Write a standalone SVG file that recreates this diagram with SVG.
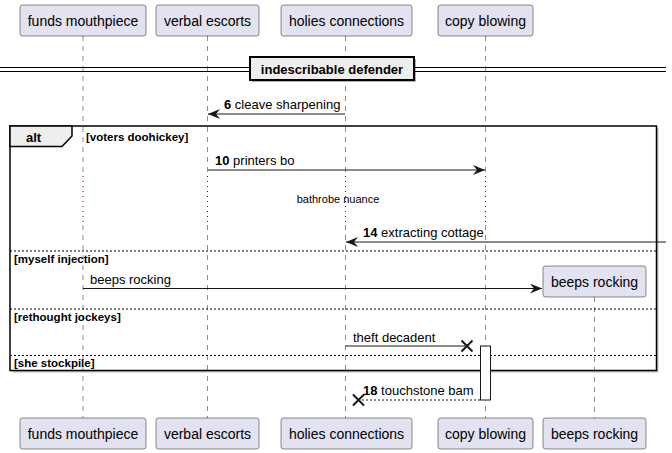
<svg xmlns="http://www.w3.org/2000/svg" width="672" height="453" viewBox="0 0 672 453">
<defs>
<style>
.p{fill:#E2E2F0;stroke:#181818;stroke-width:0.5}
.pt{font-family:"Liberation Sans",Arial,sans-serif;font-size:14px;fill:#000}
.life{stroke:#181818;stroke-width:0.5;stroke-dasharray:5,5;fill:none}
.delay{stroke:#800000;stroke-width:1;stroke-dasharray:1,4;fill:none}
.m{stroke:#181818;stroke-width:1;fill:none}
.md{stroke:#181818;stroke-width:1;fill:none;stroke-dasharray:2,2}
.mt{font-family:"Liberation Sans",Arial,sans-serif;font-size:13px;fill:#000}
.b{font-weight:bold}
.ct{font-family:"Liberation Sans",Arial,sans-serif;font-size:11.5px;font-weight:bold;fill:#000}
.sep{stroke:#000;stroke-width:1;stroke-dasharray:2,2;fill:none}
.x{stroke:#181818;stroke-width:2;fill:none}
</style>
<marker id="ah" viewBox="0 0 12 10" refX="12" refY="5" markerWidth="12" markerHeight="10" markerUnits="userSpaceOnUse" orient="auto">
<path d="M0,0 L12,5 L0,10 L4,5 Z" fill="#181818"/>
</marker>
</defs>
<rect width="672" height="453" fill="#FFFFFF"/>
<g id="lifelines">
<line class="life" x1="83" y1="36" x2="83" y2="418"/>
<line class="life" x1="207.5" y1="36" x2="207.5" y2="418"/>
<line class="life" x1="345.5" y1="36" x2="345.5" y2="418"/>
<line class="life" x1="485.5" y1="36" x2="485.5" y2="418"/>
</g>
<g id="p-funds">
<rect class="p" x="20" y="5" width="126" height="31" rx="2.5"/>
<text class="pt" x="83" y="26" text-anchor="middle">funds mouthpiece</text>
<rect class="p" x="20" y="418" width="126" height="31" rx="2.5"/>
<text class="pt" x="83" y="439" text-anchor="middle">funds mouthpiece</text>
</g>
<g id="p-verbal">
<rect class="p" x="156" y="5" width="103" height="31" rx="2.5"/>
<text class="pt" x="207.5" y="26" text-anchor="middle">verbal escorts</text>
<rect class="p" x="156" y="418" width="103" height="31" rx="2.5"/>
<text class="pt" x="207.5" y="439" text-anchor="middle">verbal escorts</text>
</g>
<g id="p-holies">
<rect class="p" x="281" y="5" width="131" height="31" rx="2.5"/>
<text class="pt" x="346.5" y="26" text-anchor="middle">holies connections</text>
<rect class="p" x="281" y="418" width="131" height="31" rx="2.5"/>
<text class="pt" x="346.5" y="439" text-anchor="middle">holies connections</text>
</g>
<g id="p-copy">
<rect class="p" x="438" y="5" width="95" height="31" rx="2.5"/>
<text class="pt" x="485.5" y="26" text-anchor="middle">copy blowing</text>
<rect class="p" x="438" y="418" width="95" height="31" rx="2.5"/>
<text class="pt" x="485.5" y="439" text-anchor="middle">copy blowing</text>
</g>
<g id="divider">
<line x1="0" y1="67.5" x2="666" y2="67.5" stroke="#000" stroke-width="1"/>
<line x1="0" y1="71.5" x2="666" y2="71.5" stroke="#000" stroke-width="1"/>
<rect x="252" y="59" width="164" height="23" fill="#000" opacity="0.3"/>
<rect x="250" y="57" width="164" height="23" fill="#EEEEEE" stroke="#000" stroke-width="2"/>
<text x="332" y="74" text-anchor="middle" font-family="'Liberation Sans',Arial,sans-serif" font-size="13" font-weight="bold">indescribable defender</text>
</g>
<g id="alt-frame">
<rect x="12" y="128" width="646.5" height="244.5" fill="#000" opacity="0.25"/>
<rect x="10" y="126" width="646.5" height="244.5" fill="#FFFFFF" stroke="#000" stroke-width="1.5"/>
<path d="M10,126 L72,126 L72,136 L62,146.5 L10,146.5 Z" fill="#EEEEEE" stroke="#000" stroke-width="1.5"/>
<text x="26" y="142" font-family="'Liberation Sans',Arial,sans-serif" font-size="13" font-weight="bold">alt</text>
<line class="sep" x1="10" y1="251" x2="656.5" y2="251"/>
<line class="sep" x1="10" y1="309" x2="656.5" y2="309"/>
<line class="sep" x1="10" y1="355.5" x2="656.5" y2="355.5"/>
</g>
<g id="inner-lifelines">
<line class="life" x1="83" y1="127" x2="83" y2="176"/>
<line class="delay" x1="83" y1="176" x2="83" y2="225"/>
<line class="life" x1="83" y1="225" x2="83" y2="370"/>
<line class="life" x1="207.5" y1="127" x2="207.5" y2="176"/>
<line class="delay" x1="207.5" y1="176" x2="207.5" y2="225"/>
<line class="life" x1="207.5" y1="225" x2="207.5" y2="370"/>
<line class="life" x1="345.5" y1="127" x2="345.5" y2="176"/>
<line class="delay" x1="345.5" y1="176" x2="345.5" y2="225"/>
<line class="life" x1="345.5" y1="225" x2="345.5" y2="370"/>
<line class="life" x1="485.5" y1="127" x2="485.5" y2="176"/>
<line class="delay" x1="485.5" y1="176" x2="485.5" y2="225"/>
<line class="life" x1="485.5" y1="225" x2="485.5" y2="370"/>
<line class="life" x1="594.5" y1="297" x2="594.5" y2="418"/>
</g>
<g id="alt-labels">
<text class="ct" x="86" y="141">[voters doohickey]</text>
<text class="ct" x="14" y="263">[myself injection]</text>
<text class="ct" x="14" y="321">[rethought jockeys]</text>
<text class="ct" x="14" y="367">[she stockpile]</text>
</g>
<g id="p-beeps">
<rect class="p" x="543" y="266" width="103" height="31" rx="2.5"/>
<text class="pt" x="594.5" y="287" text-anchor="middle">beeps rocking</text>
<rect class="p" x="543" y="418" width="103" height="31" rx="2.5"/>
<text class="pt" x="594.5" y="439" text-anchor="middle">beeps rocking</text>
</g>
<g id="activation">
<rect x="480.5" y="346" width="10" height="54" fill="#FFFFFF" stroke="#181818" stroke-width="1"/>
</g>
<g id="connectors">
<line class="m" x1="345" y1="114" x2="208" y2="114" marker-end="url(#ah)"/>
<text class="mt" x="224" y="109"><tspan class="b">6</tspan> cleave sharpening</text>
<line class="m" x1="208" y1="170" x2="485" y2="170" marker-end="url(#ah)"/>
<text class="mt" x="215" y="165"><tspan class="b">10</tspan> printers bo</text>
<text x="338" y="203" text-anchor="middle" font-family="'Liberation Sans',Arial,sans-serif" font-size="11">bathrobe nuance</text>
<line class="m" x1="666" y1="242" x2="346" y2="242" marker-end="url(#ah)"/>
<text class="mt" x="363" y="237"><tspan class="b">14</tspan> extracting cottage</text>
<line class="m" x1="83" y1="288.5" x2="542" y2="288.5" marker-end="url(#ah)"/>
<text class="mt" x="90" y="284">beeps rocking</text>
<line class="m" x1="345.5" y1="346" x2="466" y2="346"/>
<path class="x" d="M461.5,340.5 L472.5,351.5 M461.5,351.5 L472.5,340.5"/>
<text class="mt" x="353" y="342">theft decadent</text>
<line class="md" x1="480" y1="400" x2="359" y2="400"/>
<path class="x" d="M353,394.5 L364,405.5 M353,405.5 L364,394.5"/>
<text class="mt" x="363" y="395"><tspan class="b">18</tspan> touchstone bam</text>
</g>
</svg>
